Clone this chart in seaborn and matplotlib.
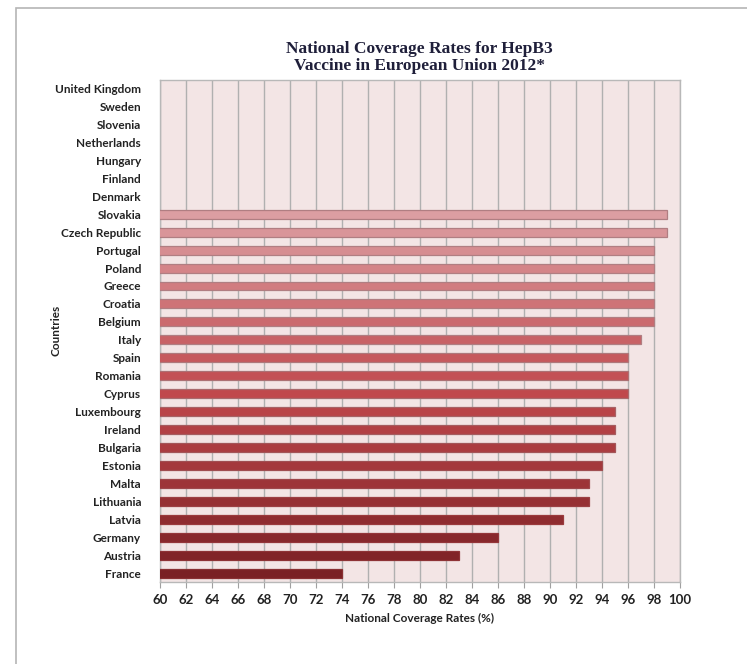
import matplotlib
matplotlib.use("Agg")
import matplotlib.pyplot as plt
import seaborn as sns
import numpy as np
import pandas as pd
from matplotlib.patches import Rectangle

countries = ["United Kingdom", "Sweden", "Slovenia", "Netherlands", "Hungary",
             "Finland", "Denmark", "Slovakia", "Czech Republic", "Portugal",
             "Poland", "Greece", "Croatia", "Belgium", "Italy", "Spain",
             "Romania", "Cyprus", "Luxembourg", "Ireland", "Bulgaria",
             "Estonia", "Malta", "Lithuania", "Latvia", "Germany", "Austria",
             "France"]
coverage = [np.nan, np.nan, np.nan, np.nan, np.nan, np.nan, np.nan,
            99, 99, 98, 98, 98, 98, 98, 97, 96, 96, 96, 95, 95, 95,
            94, 93, 93, 91, 86, 83, 74]
x_ticks = list(range(60, 101, 2))

df = pd.DataFrame({"Country": countries, "Coverage": coverage})

# light pink at the top, dark red at the bottom
n = len(countries)
light = np.array(matplotlib.colors.to_rgb("#dc9ea2"))
mid = np.array(matplotlib.colors.to_rgb("#c0484c"))
dark = np.array(matplotlib.colors.to_rgb("#7a2024"))
first = 7
colors = []
for i in range(n):
    t = max(0, i - first) / (n - 1 - first)
    if t < 0.5:
        c = light + (mid - light) * (t / 0.5)
    else:
        c = mid + (dark - mid) * ((t - 0.5) / 0.5)
    colors.append(tuple(c))

sns.set_style("white")
plt.rcParams["font.family"] = ["Lato", "DejaVu Sans"]

fig = plt.figure(figsize=(7.47, 6.64), dpi=100)
ax = fig.add_axes([0.214, 0.1235, 0.696, 0.7565])

# faint outer frame of the original picture
fig.patches.append(Rectangle((16 / 747, -0.1), 1.2, 1.1 - 8 / 664, transform=fig.transFigure,
                             fill=False, edgecolor="#b5b5b5", linewidth=1.2, zorder=0))

ax.set_facecolor("#f3e5e5")
sns.barplot(data=df, y="Country", x="Coverage", hue="Country", palette=colors,
            saturation=1, legend=False, width=0.5, orient="h", ax=ax, zorder=3)
for bar, c in zip(ax.patches, colors):
    bar.set_edgecolor(tuple(np.array(c) * 0.8))
    bar.set_linewidth(0.9)

ax.set_xlim(60, 100)
ax.set_ylim(n - 0.5, -0.5)
ax.set_xticks(x_ticks)
ax.xaxis.grid(True, color="#b0b0b0", linewidth=1)
ax.yaxis.grid(False)
ax.set_axisbelow(True)
for s in ax.spines.values():
    s.set_color("#b8b8b8")
    s.set_linewidth(1)

ax.tick_params(axis="x", bottom=True, length=4, color="#a0a0a0", pad=5)
ax.tick_params(axis="y", left=False, pad=10)
for lab in ax.get_yticklabels():
    lab.set_fontweight("bold")
    lab.set_fontsize(8.5)
    lab.set_color("#222222")
for lab in ax.get_xticklabels():
    lab.set_fontweight("bold")
    lab.set_fontsize(9.5)
    lab.set_color("#222222")

ax.set_xlabel("National Coverage Rates (%)", fontsize=8.5, fontweight="bold",
              color="#222222", labelpad=5)
ax.set_ylabel("Countries", fontsize=8.5, fontweight="bold", color="#222222")
ax.yaxis.set_label_coords(-0.19, 0.5)
ax.set_title("National Coverage Rates for HepB3\nVaccine in European Union 2012*",
             fontsize=12.5, fontweight="bold", family="Liberation Serif",
             color="#1f1f3a", linespacing=1.05, pad=7)

fig.savefig("out.png", dpi=100)
